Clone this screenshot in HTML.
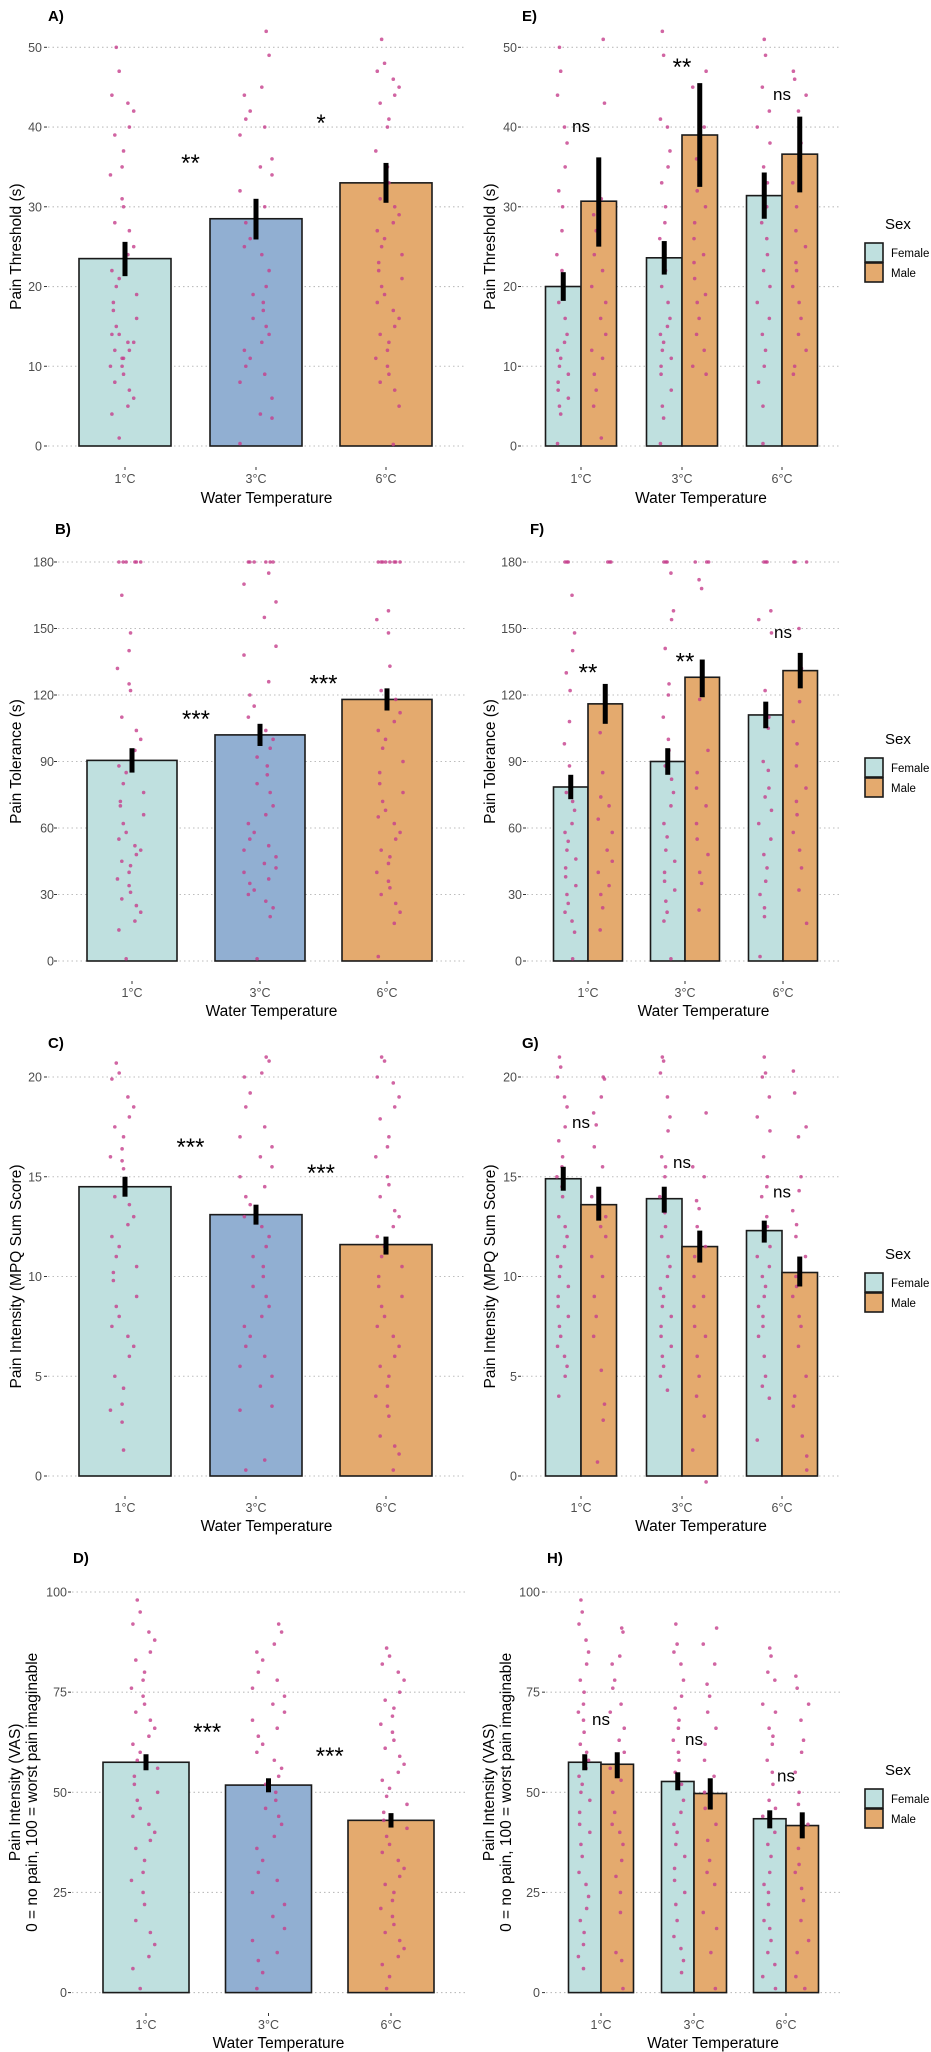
<!DOCTYPE html>
<html><head><meta charset="utf-8"><style>
html,body{margin:0;padding:0;background:#fff;}
svg{display:block;font-family:"Liberation Sans",Arial,sans-serif;}
</style></head><body>
<svg id="fig" width="931" height="2052" viewBox="0 0 931 2052" xmlns="http://www.w3.org/2000/svg"></svg>
<script>
// ---------- data ----------
const temps = ["1°C","3°C","6°C"];
const sexes = ["Female","Male"];
// Panel A: pain threshold
const threshMean = [23.5, 28.5, 33.0];
const threshLo = [21.3, 25.9, 30.5];
const threshHi = [25.6, 31.0, 35.5];
const threshPts = [
 [50,47,44,43,42,40,39,37,35,34,31,30,28,27,25,24,22,21,20,19,18,17,16,15,14,14,13,13,12,12,11,11,10,10,9,8,7,6,5,4,1],
 [52,49,45,44,42,41,40,39,36,35,34,32,30,28,26,25,24,22,20,19,18,17,16,15,14,13,12,11,10,9,8,6,4,3.5,0.3],
 [51,48,47,46,45,44,43,41,40,37,35,33,31,30,29,28,27,26,25,24,23,22,21,20,19,18,17,16,15,14,13,12,11,10,9,8,7,5,0.2]];
const threshSig = ["**","*"];
const threshSigY = [36, 41];
// Panel E
const threshSexF = [20.0, 23.6, 31.4];
const threshSexM = [30.7, 39.0, 36.6];
const threshSexFLo = [18.2, 21.5, 28.5];
const threshSexFHi = [21.8, 25.7, 34.3];
const threshSexMLo = [25.0, 32.5, 31.8];
const threshSexMHi = [36.2, 45.5, 41.3];
const threshSexPtsF = [
 [50,47,44,40,38,35,32,30,27,24,22,20,18,16,14,13,12,11,10,9,8,7,6,5,4,0.3],
 [52,49,41,40,37,35,33,30,28,26,24,22,20,18,16,15,14,13,12,11,10,9,7,5,3.5,0.3],
 [51,49,45,42,40,38,35,33,30,28,26,24,22,20,18,16,14,12,10,8,5,0.3]];
const threshSexPtsM = [
 [51,43,31,29,27,24,22,20,18,16,14,12,11,9,7,5,1],
 [47,45,40,36,34,32,30,28,26,24,23,21,19,18,16,14,12,10,9],
 [47,46,44,42,38,35,33,30,27,25,23,22,20,18,16,14,12,10,9]];
const threshSexSig = ["ns","**","ns"];
const threshSexSigY = [40, 48, 44];
// Panel B: tolerance
const tolMean = [90.5, 102, 118];
const tolLo = [85, 97, 113];
const tolHi = [96, 107, 123];
const tolPts = [
 [180,180,180,180,180,180,165,148,140,132,125,122,110,104,100,95,88,85,80,76,72,70,66,62,58,55,52,50,48,45,43,40,37,34,31,28,25,22,18,14,1],
 [180,180,180,180,180,180,175,170,162,155,142,138,126,120,115,110,104,100,96,92,88,84,80,76,70,66,62,58,55,52,50,47,44,42,40,37,35,32,30,27,24,20,1],
 [180,180,180,180,180,180,180,180,158,154,148,133,122,118,112,108,104,100,96,90,85,80,76,72,68,65,62,58,55,50,47,44,40,36,33,30,26,22,17,2]];
const tolSig = ["***","***"];
const tolSigY = [111, 127];
// Panel F
const tolSexF = [78.5, 90, 111];
const tolSexM = [116, 128, 131];
const tolSexFLo = [73, 84, 105];
const tolSexFHi = [84, 96, 117];
const tolSexMLo = [107, 119, 123];
const tolSexMHi = [125, 136, 139];
const tolSexPtsF = [
 [180,180,180,165,148,140,130,122,108,98,88,82,76,72,68,62,58,54,50,46,42,38,34,30,26,22,18,13,1],
 [180,180,180,175,158,154,141,125,120,110,100,95,88,82,76,70,62,56,50,45,40,36,32,27,22,18,1],
 [180,180,180,158,154,148,122,110,105,90,86,78,74,68,62,55,48,42,36,30,24,20,2]];
const tolSexPtsM = [
 [180,180,180,103,85,74,70,64,58,50,45,40,34,30,24,14],
 [180,180,180,172,168,118,95,85,78,70,62,55,48,40,35,23],
 [180,180,180,150,132,117,108,98,88,78,72,66,58,50,42,32,17]];
const tolSexSig = ["**","**","ns"];
const tolSexSigY = [132, 137, 148];
// Panel C: MPQ
const mpqMean = [14.5, 13.1, 11.6];
const mpqLo = [14.0, 12.6, 11.1];
const mpqHi = [15.0, 13.6, 12.0];
const mpqPts = [
 [20.7,20.2,19.9,19,18.5,18,17.5,17,16.4,16,15.8,15.4,14,13.6,13,12.6,12,11.5,11,10.5,10.2,9.8,9,8.5,8,7.5,7,6.5,6,5,4.4,3.6,3.3,2.7,1.3],
 [21,20.8,20.2,20,19.2,18.5,17.5,17,16.5,16,15.5,15,14.5,14,13.6,13,12.5,12,11.5,11,10.5,10,9.5,9,8.5,8,7.5,7,6.5,6,5.5,5,4.5,3.5,3.3,0.8,0.3],
 [21,20.8,20,19.7,19,18.5,17.9,17,16.5,16,15,14.6,14,13.3,13,12.5,12,11.5,11,10.5,10,9.5,9,8.5,8,7.5,7,6.5,6,5.5,5,4.5,4,3.5,3,2,1.5,1.1,0.3]];
const mpqSig = ["***","***"];
const mpqSigY = [16.7, 15.4];
// Panel G
const mpqSexF = [14.9, 13.9, 12.3];
const mpqSexM = [13.6, 11.5, 10.2];
const mpqSexFLo = [14.3, 13.2, 11.7];
const mpqSexFHi = [15.5, 14.5, 12.8];
const mpqSexMLo = [12.8, 10.7, 9.5];
const mpqSexMHi = [14.5, 12.3, 11.0];
const mpqSexPtsF = [
 [21,20.5,20,19,18.5,17.5,16.8,16,15.5,15,14.5,14,13,12.5,12,11.5,11,10.5,10,9.5,9,8.5,8,7.5,7,6.5,6,5.5,5,4],
 [21,20.8,20.2,19,18,17.3,16,15.5,15,14,13.2,12.5,12,11,10.5,10,9.4,9,8.5,8,7.5,7,6.5,6,5.5,5,4.3],
 [21,20.2,20,19,18,17.3,16,15,14.5,14,13,12.5,12,11.5,11,10.5,10,9.5,9,8.5,8,7.5,7,6,5,4.5,3.9,1.8]];
const mpqSexPtsM = [
 [20,19.9,19,18.2,17.6,16.5,15.5,14,13,12.5,12,11,10,9,8,7,5.3,3.6,2.8,0.7],
 [18.2,15.5,15,13.8,13.4,12.5,11.5,11,10,9,8.5,7.5,7,6,5,4,3,1.3,-0.3],
 [20.3,19.2,17.5,17,15,14.3,13.3,12.6,12,11,10,9.5,9,8,7.5,6.5,5,4,3.5,2,1,0.3]];
const mpqSexSig = ["ns","ns","ns"];
const mpqSexSigY = [17.7, 15.7, 14.2];
// Panel D: VAS
const vasMean = [57.5, 51.8, 43.0];
const vasLo = [55.5, 50.0, 41.2];
const vasHi = [59.5, 53.5, 44.8];
const vasPts = [
 [98,95,92,90,88,85,83,80,78,76,74,72,70,68,66,64,62,60,58,56,54,52,50,48,46,44,42,40,38,36,33,30,28,25,22,18,15,12,9,6,1],
 [92,90,87,85,83,80,78,76,74,72,70,68,66,64,62,60,58,56,54,52,50,48,46,44,42,39,36,33,30,28,25,22,19,16,13,10,8,5,1],
 [86,84,82,80,78,75,73,71,69,67,65,63,61,59,57,55,53,51,49,47,45,43,41,39,37,35,33,31,29,27,25,23,21,19,17,15,13,11,9,7,4,1]];
const vasSig = ["***","***"];
const vasSigY = [66, 60];
// Panel H
const vasSexF = [57.5, 52.7, 43.4];
const vasSexM = [57.0, 49.7, 41.7];
const vasSexFLo = [55.5, 50.5, 41.0];
const vasSexFHi = [59.5, 55.0, 45.5];
const vasSexMLo = [53.5, 45.7, 38.5];
const vasSexMHi = [60.0, 53.5, 45.0];
const vasSexPtsF = [
 [98,95,92,88,85,82,78,75,72,70,68,65,62,60,58,56,54,52,50,48,45,42,40,37,34,30,27,24,21,18,15,12,9,6],
 [92,87,85,82,78,74,71,68,66,63,60,58,55,52,48,45,42,40,37,34,31,28,25,22,18,14,11,8,5],
 [86,84,80,78,72,70,66,64,62,58,55,52,48,46,44,40,37,34,30,27,25,22,18,16,13,10,7,4,1]];
const vasSexPtsM = [
 [91,90,84,82,78,76,72,70,66,63,60,56,53,50,45,42,40,37,33,29,25,20,10,8,1],
 [91,87,82,77,74,70,66,62,58,54,50,46,42,38,33,30,27,20,16,10,1],
 [79,76,72,68,63,60,55,50,47,42,36,32,30,26,23,18,13,10,4,1]];
const vasSexSig = ["ns","ns","ns"];
const vasSexSigY = [68, 63, 54];

const yTicksThresh = [0,10,20,30,40,50];
const yTicksTol = [0,30,60,90,120,150,180];
const yTicksMpq = [0,5,10,15,20];
const yTicksVas = [0,25,50,75,100];

// ---------- drawing ----------
const NS = "http://www.w3.org/2000/svg";
const svg = document.getElementById("fig");
const FILL3 = ["#bfe0df","#91afd2","#e4aa6e"];
const FILLSEX = ["#bfe0df","#e4aa6e"];
const PT = "#c63f8c";

function mk(tag, attrs, parent, txt){
  const e = document.createElementNS(NS, tag);
  for (const k in attrs) e.setAttribute(k, attrs[k]);
  if (txt !== undefined) e.textContent = txt;
  (parent || svg).appendChild(e);
  return e;
}
function jit(i, n){ return (((i*i*31 + i*17 + n*13 + 5) % 23) / 22) - 0.5; }

function panel(L, vals, grouped){
  const g = mk("g", {});
  
  
  const y = v => L.y0 - (v - L.min) / (L.max - L.min) * (L.y0 - L.y1);
  const pl = mk("text", {x:L.lx, y:L.ly, "font-size":15, "font-weight":"bold", fill:"#000"}, g, L.letter + ")");
  
  
  L.ticks.forEach(t => {
    const gl = mk("line", {x1:L.gx0, x2:L.gx1, y1:y(t), y2:y(t), stroke:"#bdbdbd", "stroke-width":1.1, "stroke-dasharray":"1.5 3"}, g);
    
    
    const tk = mk("line", {x1:L.gx0-4, x2:L.gx0-1, y1:y(t), y2:y(t), stroke:"#333", "stroke-width":1}, g);
    
    
    const tl = mk("text", {x:L.labR, y:y(t)+4.5, "text-anchor":"end", "font-size":12.5, fill:"#4d4d4d"}, g, String(t));
    
    
  });
  const cy = (L.y0 + y(L.max)) / 2;
  L.ytitle.forEach((s, k) => {
    const yt = mk("text", {x:0, y:0, transform:`translate(${L.ytx[k]},${cy}) rotate(-90)`, "text-anchor":"middle", "font-size":15.5, fill:"#000"}, g, s);
    
    
  });
  const bars = [];
  if (!grouped){
    temps.forEach((c, i) => {
      bars.push({x:L.centers[i]-L.bw/2, w:L.bw, m:vals.mean[i], lo:vals.lo[i], hi:vals.hi[i], pts:vals.pts[i], fill:FILL3[i], name:"bar-"+c, sp:32});
    });
  } else {
    temps.forEach((c, i) => {
      bars.push({x:L.centers[i]-L.bw, w:L.bw, m:vals.f[i], lo:vals.flo[i], hi:vals.fhi[i], pts:vals.pf[i], fill:FILLSEX[0], name:"bar-female-"+c, sp:14});
      bars.push({x:L.centers[i], w:L.bw, m:vals.m[i], lo:vals.mlo[i], hi:vals.mhi[i], pts:vals.pm[i], fill:FILLSEX[1], name:"bar-male-"+c, sp:14});
    });
  }
  bars.forEach((b, bi) => {
    const r = mk("rect", {x:b.x, y:y(b.m), width:b.w, height:L.y0 - y(b.m), fill:b.fill, stroke:"#1a1a1a", "stroke-width":1.6}, g);
    
    
  });
  bars.forEach((b, bi) => {
    const cx = b.x + b.w/2;
    b.pts.forEach((v, i) => {
      const p = mk("circle", {cx: cx + jit(i, bi) * b.sp, cy: y(v), r:1.8, fill:PT, "fill-opacity":0.8}, g);
      
      
    });
  });
  bars.forEach(b => {
    const cx = b.x + b.w/2;
    const e = mk("line", {x1:cx, x2:cx, y1:y(b.lo), y2:y(b.hi), stroke:"#000", "stroke-width":5}, g);
    
    
  });
  temps.forEach((c, i) => {
    const tk = mk("line", {x1:L.centers[i], x2:L.centers[i], y1:L.xly-16, y2:L.xly-13, stroke:"#333", "stroke-width":1}, g);
    
    
    const t = mk("text", {x:L.centers[i], y:L.xly, "text-anchor":"middle", "font-size":12.5, fill:"#4d4d4d"}, g, c);
    
    
  });
  const xt = mk("text", {x:(L.gx0 + L.gx1)/2 + (grouped?20:10), y:L.xty, "text-anchor":"middle", "font-size":15.5, fill:"#000"}, g, "Water Temperature");
  
  
  vals.sig.forEach((s, i) => {
    const sx = grouped ? L.centers[i] : (L.centers[i] + L.centers[i+1]) / 2;
    const st = mk("text", {x:sx, y:y(vals.sigY[i]) + (s==="ns"?5:12), "text-anchor":"middle", "font-size": s==="ns"?17:24, fill:"#000"}, g, s);
    
    
  });
  if (grouped){
    const lg = mk("g", {}, g);
    
    
    const ttl = mk("text", {x:885, y:L.legY, "font-size":15, fill:"#000"}, lg, "Sex");
    
    
    sexes.forEach((s, k) => {
      const by = L.legY + 14 + k*20;
      const kb = mk("rect", {x:865, y:by, width:18, height:19, fill:FILLSEX[k], stroke:"#1a1a1a", "stroke-width":1.6}, lg);
      
      
      const kt = mk("text", {x:891, y:by + 14, "font-size":11.5, fill:"#000"}, lg, s);
      
      
    });
  }
}

const LCEN = [125,256,386];
const RCEN = [581,682,782];
panel({letter:"A", lx:48, ly:21, min:0, max:50, y0:446, y1:47.3, ticks:yTicksThresh, labR:42, gx0:48, gx1:465, centers:LCEN, bw:92, ytitle:["Pain Threshold (s)"], ytx:[21], xly:483, xty:503},
  {mean:threshMean, lo:threshLo, hi:threshHi, pts:threshPts, sig:threshSig, sigY:threshSigY}, false);
panel({letter:"E", lx:522, ly:21, min:0, max:50, y0:446, y1:47.3, ticks:yTicksThresh, labR:517, gx0:522, gx1:840, centers:RCEN, bw:35.5, ytitle:["Pain Threshold (s)"], ytx:[495], xly:483, xty:503, legY:229},
  {f:threshSexF, m:threshSexM, flo:threshSexFLo, fhi:threshSexFHi, mlo:threshSexMLo, mhi:threshSexMHi, pf:threshSexPtsF, pm:threshSexPtsM, sig:threshSexSig, sigY:threshSexSigY}, true);
panel({letter:"B", lx:55, ly:534, min:0, max:180, y0:961, y1:562, ticks:yTicksTol, labR:54, gx0:58, gx1:465, centers:[132,260,387], bw:90, ytitle:["Pain Tolerance (s)"], ytx:[21], xly:997, xty:1016},
  {mean:tolMean, lo:tolLo, hi:tolHi, pts:tolPts, sig:tolSig, sigY:tolSigY}, false);
panel({letter:"F", lx:530, ly:534, min:0, max:180, y0:961, y1:562, ticks:yTicksTol, labR:522, gx0:527, gx1:840, centers:[588,685,783], bw:34.5, ytitle:["Pain Tolerance (s)"], ytx:[495], xly:997, xty:1016, legY:744},
  {f:tolSexF, m:tolSexM, flo:tolSexFLo, fhi:tolSexFHi, mlo:tolSexMLo, mhi:tolSexMHi, pf:tolSexPtsF, pm:tolSexPtsM, sig:tolSexSig, sigY:tolSexSigY}, true);
panel({letter:"C", lx:48, ly:1048, min:0, max:20, y0:1476, y1:1077, ticks:yTicksMpq, labR:42, gx0:48, gx1:465, centers:LCEN, bw:92, ytitle:["Pain Intensity (MPQ Sum Score)"], ytx:[21], xly:1512, xty:1531},
  {mean:mpqMean, lo:mpqLo, hi:mpqHi, pts:mpqPts, sig:mpqSig, sigY:mpqSigY}, false);
panel({letter:"G", lx:522, ly:1048, min:0, max:20, y0:1476, y1:1077, ticks:yTicksMpq, labR:517, gx0:522, gx1:840, centers:RCEN, bw:35.5, ytitle:["Pain Intensity (MPQ Sum Score)"], ytx:[495], xly:1512, xty:1531, legY:1259},
  {f:mpqSexF, m:mpqSexM, flo:mpqSexFLo, fhi:mpqSexFHi, mlo:mpqSexMLo, mhi:mpqSexMHi, pf:mpqSexPtsF, pm:mpqSexPtsM, sig:mpqSexSig, sigY:mpqSexSigY}, true);
panel({letter:"D", lx:73, ly:1563, min:0, max:100, y0:1992.6, y1:1592, ticks:yTicksVas, labR:67, gx0:72, gx1:465, centers:[146,268.5,391], bw:86, ytitle:["Pain Intensity (VAS)","0 = no pain, 100 = worst pain imaginable"], ytx:[20,37], xly:2029, xty:2048},
  {mean:vasMean, lo:vasLo, hi:vasHi, pts:vasPts, sig:vasSig, sigY:vasSigY}, false);
panel({letter:"H", lx:547, ly:1563, min:0, max:100, y0:1992.6, y1:1592, ticks:yTicksVas, labR:540, gx0:546, gx1:840, centers:[601,694,786], bw:32.5, ytitle:["Pain Intensity (VAS)","0 = no pain, 100 = worst pain imaginable"], ytx:[494,511], xly:2029, xty:2048, legY:1775},
  {f:vasSexF, m:vasSexM, flo:vasSexFLo, fhi:vasSexFHi, mlo:vasSexMLo, mhi:vasSexMHi, pf:vasSexPtsF, pm:vasSexPtsM, sig:vasSexSig, sigY:vasSexSigY}, true);
</script>
</body></html>
